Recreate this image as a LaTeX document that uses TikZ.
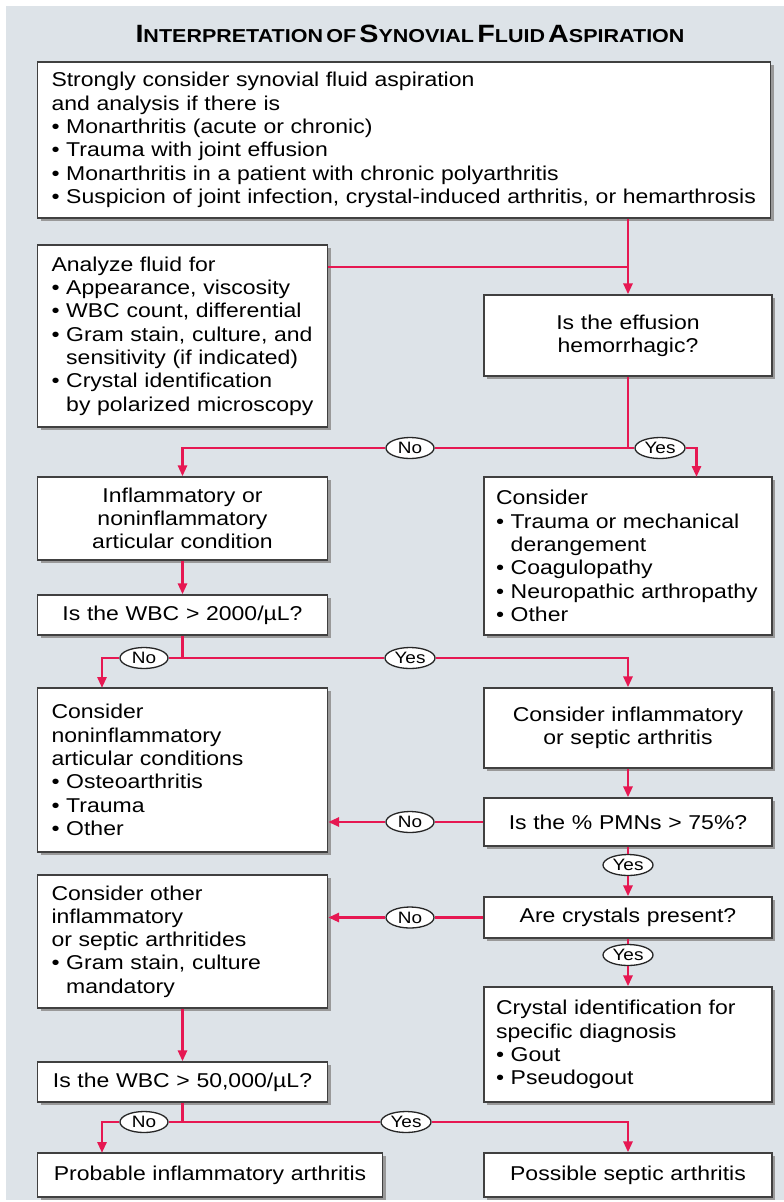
\documentclass[tikz,border=0pt]{standalone}
\usepackage{fontspec}
\setmainfont{Liberation Sans}[FakeStretch=1.15]
\usetikzlibrary{arrows.meta,shapes.geometric,shadows}

\definecolor{panel}{RGB}{221,227,232}
\definecolor{flow}{RGB}{230,24,82}

\newcommand{\capword}[2]{{\fontsize{25}{26}\selectfont #1}{\fontsize{18.7}{26}\selectfont #2}}

\begin{document}
\begin{tikzpicture}[
	x=1pt, y=-1pt,
	> = {Triangle[length=11pt,width=9pt]},
	box/.style = {draw=black!75, line width=1.3pt, fill=white, inner xsep=14pt, inner ysep=0pt,
		font=\fontsize{20}{23.3}\selectfont,
		drop shadow={shadow xshift=3pt, shadow yshift=-3pt, fill=black!40, opacity=1}},
	lbox/.style = {box, align=left},
	cbox/.style = {box, align=center},
	right col/.style = {inner xsep=12pt, text width=264pt},
	answer/.style = {draw=black!85, ellipse, fill=white, line width=1.3pt, inner sep=0pt,
		minimum width=48pt, minimum height=21pt, font=\fontsize{16.5}{16.5}\selectfont},
	link/.style = {draw=flow, line width=2.8pt}
	]
	\useasboundingbox (0,0) rectangle (784,1202);
	\fill[panel] (6,6) rectangle (784,1200);

	\node[font=\bfseries] (title) at (410,34) {\capword{I}{NTERPRETATION} \capword{}{OF} \capword{S}{YNOVIAL} \capword{F}{LUID} \capword{A}{SPIRATION}};

	% left column x = 182.5, right column x = 628
	\node[lbox, text width=705pt, minimum height=156pt] (b1) at (404,140) {Strongly consider synovial fluid aspiration\\
		and analysis if there is\\
		\textbullet\ Monarthritis (acute or chronic)\\
		\textbullet\ Trauma with joint effusion\\
		\textbullet\ Monarthritis in a patient with chronic polyarthritis\\
		\textbullet\ Suspicion of joint infection, crystal-induced arthritis, or hemarthrosis};

	\node[lbox, text width=262pt, minimum height=182pt] (b2) at (182.5,336) {Analyze fluid for\\
		\textbullet\ Appearance, viscosity\\
		\textbullet\ WBC count, differential\\
		\textbullet\ Gram stain, culture, and\\
		\phantom{\textbullet\ }sensitivity (if indicated)\\
		\textbullet\ Crystal identification\\
		\phantom{\textbullet\ }by polarized microscopy};

	\node[cbox, right col, minimum height=81pt] (b3) at (628,335.5) {Is the effusion\\ hemorrhagic?};

	\node[cbox, text width=262pt, minimum height=83pt] (b4) at (182.5,518.5) {Inflammatory or\\ noninflammatory\\ articular condition};

	\node[lbox, right col, minimum height=158pt] (b5) at (628,556) {Consider\\
		\textbullet\ Trauma or mechanical\\
		\phantom{\textbullet\ }derangement\\
		\textbullet\ Coagulopathy\\
		\textbullet\ Neuropathic arthropathy\\
		\textbullet\ Other};

	\node[cbox, text width=262pt, minimum height=40pt] (b6) at (182.5,615) {Is the WBC > 2000/µL?};

	\node[lbox, text width=262pt, minimum height=164pt] (b7) at (182.5,770) {Consider\\
		noninflammatory\\
		articular conditions\\
		\textbullet\ Osteoarthritis\\
		\textbullet\ Trauma\\
		\textbullet\ Other};

	\node[cbox, right col, minimum height=80pt] (b8) at (628,728) {Consider inflammatory\\ or septic arthritis};

	\node[cbox, right col, minimum height=48pt] (b9) at (628,822) {Is the \% PMNs > 75\%?};

	\node[cbox, right col, minimum height=41pt] (b10) at (628,917.5) {Are crystals present?};

	\node[lbox, text width=262pt, minimum height=133pt] (b11) at (182.5,941.5) {Consider other\\
		inflammatory\\
		or septic arthritides\\
		\textbullet\ Gram stain, culture\\
		\phantom{\textbullet\ }mandatory};

	\node[lbox, right col, minimum height=115pt] (b12) at (628,1044.5) {Crystal identification for\\
		specific diagnosis\\
		\textbullet\ Gout\\
		\textbullet\ Pseudogout};

	\node[cbox, text width=262pt, minimum height=40pt] (b13) at (182.5,1082) {Is the WBC > 50,000/µL?};

	\node[cbox, text width=317pt, minimum height=44pt] (b14) at (210,1175) {Probable inflammatory arthritis};
	\node[cbox, right col, minimum height=44pt] (b15) at (628,1175) {Possible septic arthritis};

	% answers
	\node[answer] (no1) at (410,448) {No};
	\node[answer, minimum width=50pt] (yes1) at (660,448) {Yes};
	\node[answer] (no2) at (144,658) {No};
	\node[answer, minimum width=50pt] (yes2) at (410,658) {Yes};
	\node[answer] (no3) at (410,822) {No};
	\node[answer, minimum width=50pt] (yes3) at (628,865) {Yes};
	\node[answer] (no4) at (410,917.5) {No};
	\node[answer, minimum width=50pt] (yes4) at (628,955) {Yes};
	\node[answer] (no5) at (144,1122) {No};
	\node[answer, minimum width=50pt] (yes5) at (406,1122) {Yes};

	\coordinate (join) at (628,267);
	\coordinate (split1) at (628,448);
	\coordinate (drop1) at (696.5,477);
	\coordinate (split2) at (182.5,658);
	\coordinate (drop2) at (102,688);
	\coordinate (split3) at (182.5,1122);
	\coordinate (drop3) at (102,1153);

	\draw[link,->] (b3.north |- b1.south) -- (b3.north);
	\draw[link] (b2.east |- join) -- (join);

	\draw[link] (b3.south) -- (split1);
	\draw[link,->] (split1) -- (no1) -| (b4.north);
	\draw[link,->] (split1) -- (yes1) -| (drop1);

	\draw[link,->] (b4) -- (b6);
	\draw[link] (b6.south) -- (split2);
	\draw[link,->] (split2) -- (no2) -| (drop2);
	\draw[link,->] (split2) -- (yes2) -| (b8.north);

	\draw[link,->] (b8) -- (b9);
	\draw[link,->] (b9) -- (no3) -- (no3 -| b7.east);
	\draw[link,->] (b9) -- (yes3) -- (b10);
	\draw[link,->] (b10) -- (no4) -- (no4 -| b11.east);
	\draw[link,->] (b10) -- (yes4) -- (b12);

	\draw[link,->] (b11) -- (b13);
	\draw[link] (b13.south) -- (split3);
	\draw[link,->] (split3) -- (no5) -| (drop3);
	\draw[link,->] (split3) -- (yes5) -| (b15.north);

\end{tikzpicture}
\end{document}
